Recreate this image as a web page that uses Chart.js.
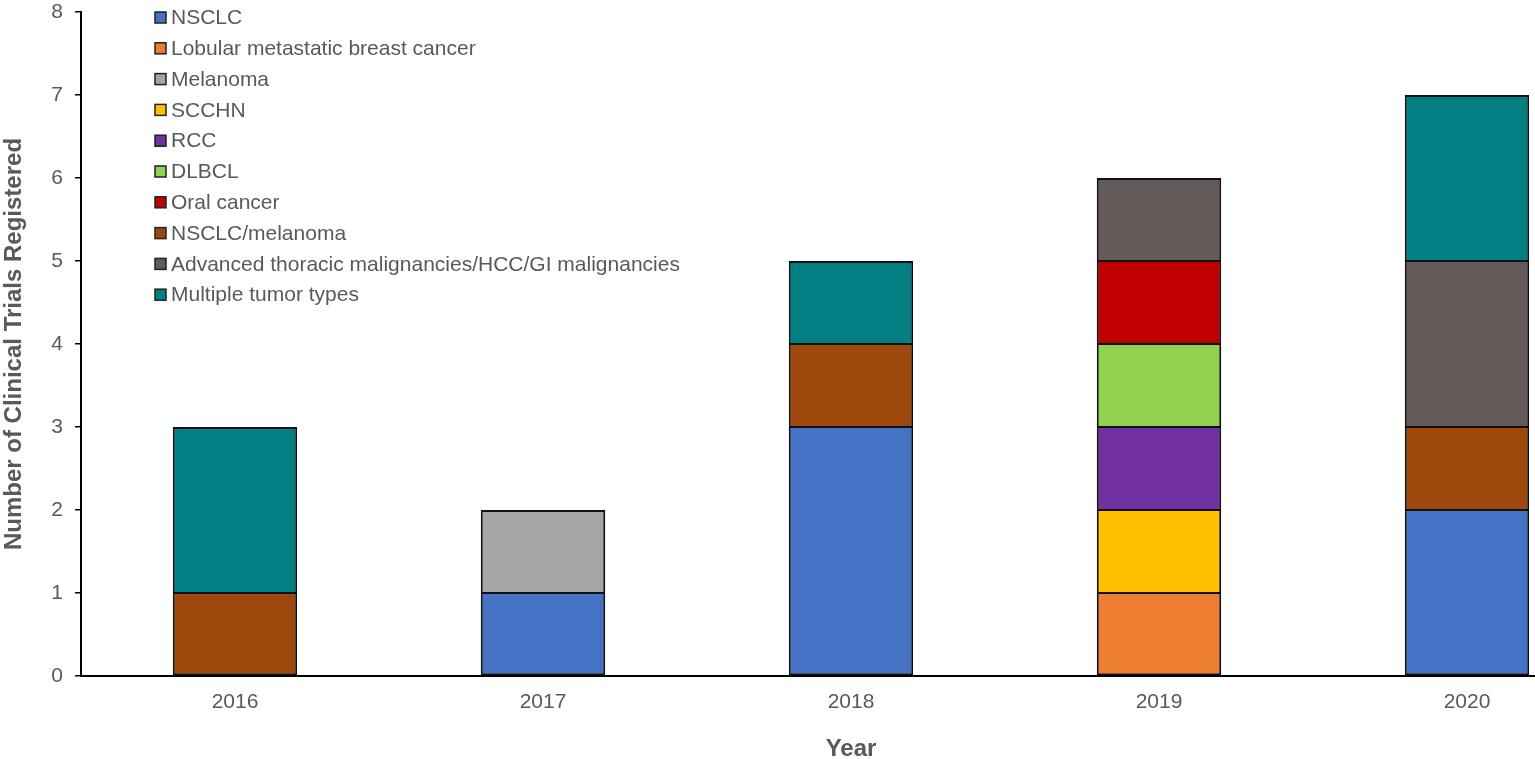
<!DOCTYPE html>
<html lang="en">
<head>
    <title>Clinical trials</title>
    <script src="https://cdn.jsdelivr.net/npm/chart.js"></script>
    <style>
        html, body { margin: 0; padding: 0; overflow: hidden; background: #fff; }
        #wrap { width: 1625px; height: 770px; }
    </style>
</head>
<body>

<div id="wrap">
    <canvas id="myChart"></canvas>
</div>

<script>
    // years on x axis
    var years = ["2016", "2017", "2018", "2019", "2020"];

    // trials per tumour type, one value per year
    var nsclc          = [0, 1, 3, 0, 2];
    var lobular        = [0, 0, 0, 1, 0];
    var melanoma       = [0, 1, 0, 0, 0];
    var scchn          = [0, 0, 0, 1, 0];
    var rcc            = [0, 0, 0, 1, 0];
    var dlbcl          = [0, 0, 0, 1, 0];
    var oralCancer     = [0, 0, 0, 1, 0];
    var nsclcMelanoma  = [1, 0, 1, 0, 1];
    var advanced       = [0, 0, 0, 1, 2];
    var multipleTumor  = [2, 0, 1, 0, 2];

    var yTicks = [0, 1, 2, 3, 4, 5, 6, 7, 8];

    var textColor = "#595959";
    var fontFam = "'Liberation Sans', Arial, sans-serif";

    // outline: skip empty segments, keep shared edges between stacked segments thin
    function segBorder(c) {
        if (!c.raw) return 0;
        var sets = c.chart.data.datasets;
        var onTop = true;
        for (var k = c.datasetIndex + 1; k < sets.length; k++) {
            if (sets[k].data[c.dataIndex]) { onTop = false; break; }
        }
        var onBottom = true;
        for (var j = 0; j < c.datasetIndex; j++) {
            if (sets[j].data[c.dataIndex]) { onBottom = false; break; }
        }
        return { left: 2, right: 2, top: onTop ? 2 : 1, bottom: onBottom ? 2 : 1 };
    }

    function ds(label, data, color) {
        return {
            label: label,
            data: data,
            backgroundColor: color,
            borderColor: "#111",
            borderWidth: segBorder,
            borderSkipped: false,
            barPercentage: 0.404,
            categoryPercentage: 1.0
        };
    }

    // legend drawn inside the plot, top left
    var insideLegend = {
        id: "insideLegend",
        afterDraw: function(chart) {
            var ctx = chart.ctx;
            ctx.save();
            ctx.font = "21px " + fontFam;
            ctx.textBaseline = "middle";
            chart.data.datasets.forEach(function(d, i) {
                var y = 17.5 + i * 30.8;
                ctx.fillStyle = d.backgroundColor;
                ctx.fillRect(155, y - 5.5, 11, 11);
                ctx.strokeStyle = "#222";
                ctx.lineWidth = 1.5;
                ctx.strokeRect(155, y - 5.5, 11, 11);
                ctx.fillStyle = textColor;
                ctx.fillText(d.label, 171, y + 1);
            });
            ctx.restore();
        }
    };

    var ctx = document.getElementById("myChart").getContext("2d");
    var myChart = new Chart(ctx, {
        type: "bar",
        data: {
            labels: years,
            datasets: [
                ds("NSCLC", nsclc, "#4472C4"),
                ds("Lobular metastatic breast cancer", lobular, "#ED7D31"),
                ds("Melanoma", melanoma, "#A5A5A5"),
                ds("SCCHN", scchn, "#FFC000"),
                ds("RCC", rcc, "#7030A0"),
                ds("DLBCL", dlbcl, "#92D050"),
                ds("Oral cancer", oralCancer, "#C00000"),
                ds("NSCLC/melanoma", nsclcMelanoma, "#9E480E"),
                ds("Advanced thoracic malignancies/HCC/GI malignancies", advanced, "#635A59"),
                ds("Multiple tumor types", multipleTumor, "#008080")
            ]
        },
        plugins: [insideLegend],
        options: {
            responsive: true,
            maintainAspectRatio: false,
            animation: false,
            layout: { padding: { top: 12, right: 4, left: 0, bottom: 0 } },
            plugins: {
                legend: { display: false },
                tooltip: { enabled: false }
            },
            scales: {
                x: {
                    stacked: true,
                    grid: { display: false },
                    border: { display: true, color: "#000", width: 2 },
                    ticks: {
                        color: textColor,
                        font: { family: fontFam, size: 21 },
                        padding: 6
                    },
                    title: {
                        display: true,
                        text: "Year",
                        color: textColor,
                        font: { family: fontFam, size: 24, weight: "bold" },
                        padding: { top: 0, bottom: 6 }
                    },
                    afterFit: function(scale) { scale.height = 94; }
                },
                y: {
                    stacked: true,
                    min: 0,
                    max: 8,
                    afterBuildTicks: function(scale) {
                        scale.ticks = yTicks.map(function(v) { return { value: v }; });
                    },
                    grid: {
                        drawOnChartArea: false,
                        drawTicks: true,
                        tickLength: 6,
                        color: "#000",
                        lineWidth: 1.5
                    },
                    border: { display: true, color: "#000", width: 2 },
                    ticks: {
                        color: textColor,
                        font: { family: fontFam, size: 21 },
                        padding: 12
                    },
                    title: {
                        display: true,
                        text: "Number of Clinical Trials Registered",
                        color: textColor,
                        font: { family: fontFam, size: 24, weight: "bold" },
                        padding: { top: 0, bottom: 0 }
                    },
                    afterFit: function(scale) {
                        scale.width = 81;
                        scale.paddingTop = 0;
                        scale.paddingBottom = 0;
                    }
                }
            }
        }
    });
</script>
</body>
</html>
